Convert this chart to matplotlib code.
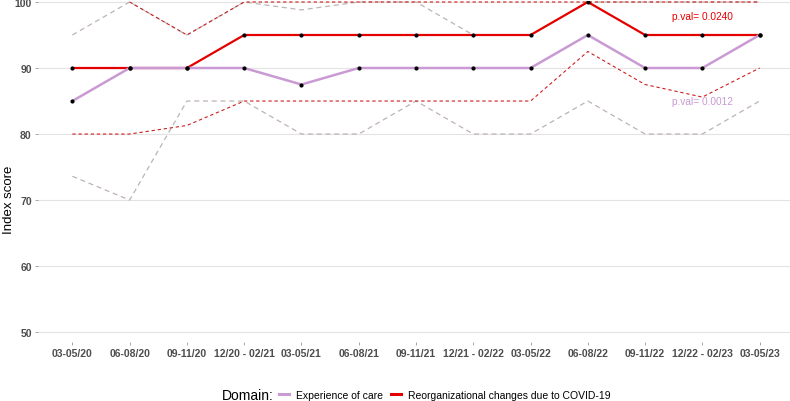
import numpy as np
import matplotlib.pyplot as plt
from matplotlib.lines import Line2D

plt.rcParams['font.family'] = ['Liberation Sans', 'DejaVu Sans']

# quarters on the x axis
periods = ["03-05/20", "06-08/20", "09-11/20", "12/20 - 02/21", "03-05/21",
           "06-08/21", "09-11/21", "12/21 - 02/22", "03-05/22", "06-08/22",
           "09-11/22", "12/22 - 02/23", "03-05/23"]

# Reorganizational changes due to COVID-19
reorg = [90, 90, 90, 95, 95, 95, 95, 95, 95, 100, 95, 95, 95]
reorg_lo = [80, 80, 81.3, 85, 85, 85, 85, 85, 85, 92.5, 87.5, 85.6, 90]
reorg_hi = [np.nan, 100, 95, 100, 100, 100, 100, 100, 100, 100, 100, 100, 100]

# Experience of care
care = [85, 90, 90, 90, 87.5, 90, 90, 90, 90, 95, 90, 90, 95]
care_lo = [73.6, 70, 85, 85, 80, 80, 85, 80, 80, 85, 80, 80, 85]
care_hi = [95, 100, 95, 100, 98.8, 100, 100, 95, 95, 100, 100, 100, 100]

pval_reorg = "p.val= 0.0240"
pval_care = "p.val= 0.0012"

RED = "#E50000"
RED_DASH = "#CC1F1F"
PURPLE = "#C99AD3"
GREY_DASH = "#BDB3B3"
TXT = "#4D4D4D"

x = np.arange(len(periods))

fig = plt.figure(figsize=(7.9, 4.02), dpi=100)
ax = fig.add_axes([38 / 790, 1 - 343 / 402, 1 - 38 / 790, (343 - 2) / 402])

# confidence bands as dashed lines
ax.plot(x, care_lo, color=GREY_DASH, lw=0.9, ls=(0, (4, 3)), zorder=2)
ax.plot(x, care_hi, color=GREY_DASH, lw=0.9, ls=(0, (4, 3)), zorder=2)
ax.plot(x, reorg_lo, color=RED_DASH, lw=0.8, ls=(0, (3, 2.5)), zorder=3)
ax.plot(x, reorg_hi, color=RED_DASH, lw=0.8, ls=(0, (3, 2.5)), zorder=3)

# main series
ax.plot(x, reorg, color=RED, lw=1.6, zorder=4)
ax.plot(x, care, color=PURPLE, lw=1.8, zorder=5)
ax.scatter(x, reorg, s=9, color="black", zorder=6, linewidths=0)
ax.scatter(x, care, s=9, color="black", zorder=6, linewidths=0)

ax.text(11, 97.9, pval_reorg, color=RED, fontsize=7.3, ha="center", va="center")
ax.text(11, 85.0, pval_care, color=PURPLE, fontsize=7.3, ha="center", va="center")

ax.set_xlim(-0.6, 12.53)
ax.set_ylim(48.5, 100.15)
ax.set_xticks(x)
ax.set_xticklabels(periods)
ax.set_yticks([50, 60, 70, 80, 90, 100])
for lab in ax.get_xticklabels() + ax.get_yticklabels():
    lab.set_fontweight("bold")
    lab.set_color(TXT)
    lab.set_fontsize(7.5)
ax.tick_params(axis="both", length=2.5, width=0.6, color="#999999", pad=2)

ax.grid(axis="y", color="#E3E3E3", lw=0.8)
ax.set_axisbelow(True)
for s in ax.spines.values():
    s.set_visible(False)

fig.text(9 / 790, 1 - 200 / 402, "Index score", rotation=90, fontsize=9.5,
         ha="center", va="center", color="black")

# legend along the bottom
fig.text(222 / 790, 1 - 396 / 402, "Domain:", fontsize=10, ha="left",
         va="center", color="black")
handles = [Line2D([], [], color=PURPLE, lw=2.2),
           Line2D([], [], color=RED, lw=2.2)]
fig.legend(handles, ["Experience of care", "Reorganizational changes due to COVID-19"],
           loc="center left", bbox_to_anchor=(279 / 790, 1 - 396 / 402), ncol=2,
           frameon=False, fontsize=7.5, handlelength=1.0, handletextpad=0.6,
           columnspacing=0.8, borderaxespad=0, borderpad=0)

fig.savefig("out.png", dpi=100)
